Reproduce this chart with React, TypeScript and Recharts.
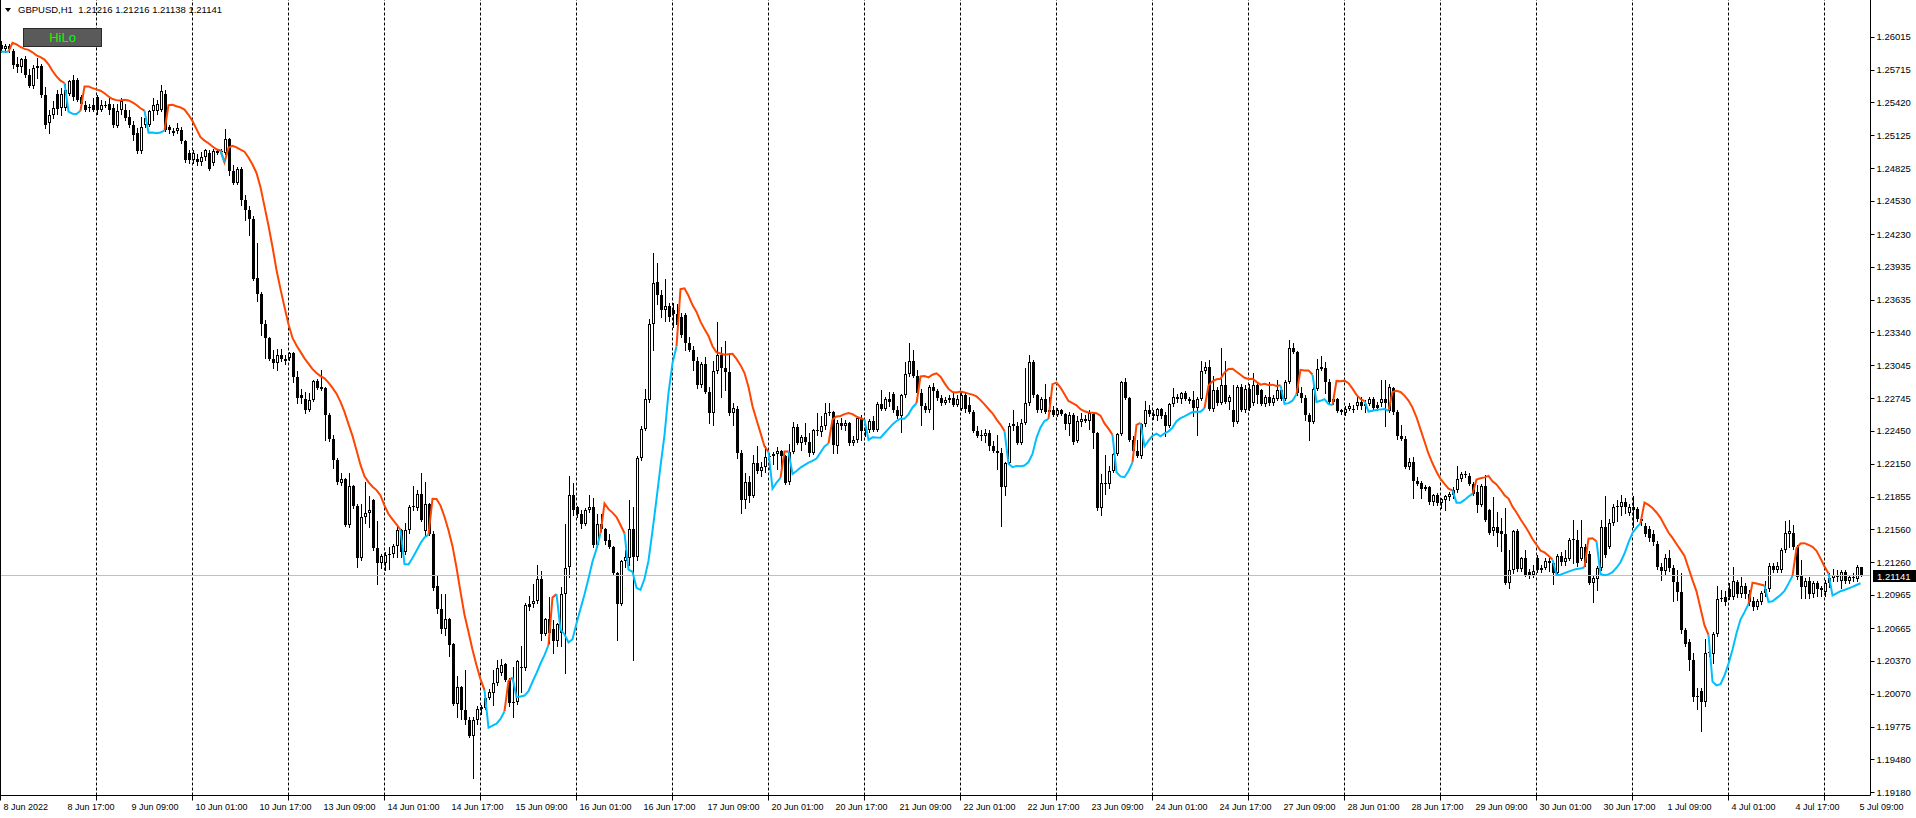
import React from "react";
import { ComposedChart, Bar, Line, XAxis, YAxis, ReferenceLine } from "recharts";

// GBPUSD H1, 8 Jun 2022 00:00 .. 5 Jul 2022 09:00 (one entry per hourly bar)
const opens = [
  1.2594, 1.2590, 1.2593, 1.2589, 1.2577, 1.2574, 1.2581, 1.2567, 1.2557, 1.2573,
  1.2575, 1.2549, 1.2523, 1.2531, 1.2550, 1.2537, 1.2537, 1.2550, 1.2562, 1.2562,
  1.2547, 1.2540, 1.2537, 1.2540, 1.2547, 1.2535, 1.2540, 1.2541, 1.2537, 1.2521,
  1.2535, 1.2535, 1.2529, 1.2522, 1.2514, 1.2498, 1.2522, 1.2522, 1.2534, 1.2534,
  1.2535, 1.2550, 1.2520, 1.2514, 1.2516, 1.2517, 1.2507, 1.2496, 1.2490, 1.2491,
  1.2488, 1.2493, 1.2496, 1.2487, 1.2498, 1.2497, 1.2496, 1.2509, 1.2480, 1.2469,
  1.2482, 1.2454, 1.2445, 1.2437, 1.2383, 1.2369, 1.2342, 1.2329, 1.2310, 1.2306,
  1.2314, 1.2310, 1.2311, 1.2315, 1.2294, 1.2277, 1.2274, 1.2264, 1.2273, 1.2290,
  1.2285, 1.2284, 1.2259, 1.2238, 1.2219, 1.2198, 1.2201, 1.2160, 1.2195, 1.2177,
  1.2130, 1.2167, 1.2171, 1.2182, 1.2139, 1.2125, 1.2125, 1.2133, 1.2134, 1.2141,
  1.2155, 1.2135, 1.2155, 1.2176, 1.2175, 1.2188, 1.2154, 1.2179, 1.2152, 1.2105,
  1.2084, 1.2066, 1.2075, 1.2052, 1.1998, 1.2013, 1.1992, 1.1983, 1.1969, 1.1983,
  1.1993, 1.1994, 1.2003, 1.2008, 1.2017, 1.2026, 1.2034, 1.2020, 1.1999, 1.2000,
  1.2031, 1.2030, 1.2088, 1.2088, 1.2091, 1.2111, 1.2061, 1.2075, 1.2066, 1.2055,
  1.2062, 1.2097, 1.2122, 1.2187, 1.2176, 1.2170, 1.2161, 1.2173, 1.2176, 1.2142,
  1.2161, 1.2156, 1.2146, 1.2140, 1.2116, 1.2088, 1.2127, 1.2130, 1.2156, 1.2131,
  1.2220, 1.2247, 1.2273, 1.2342, 1.2380, 1.2368, 1.2354, 1.2358, 1.2354, 1.2351,
  1.2348, 1.2350, 1.2324, 1.2318, 1.2308, 1.2286, 1.2305, 1.2280, 1.2261, 1.2299,
  1.2314, 1.2302, 1.2298, 1.2261, 1.2265, 1.2225, 1.2182, 1.2199, 1.2186, 1.2216,
  1.2209, 1.2212, 1.2221, 1.2222, 1.2224, 1.2227, 1.2222, 1.2199, 1.2226, 1.2248,
  1.2234, 1.2239, 1.2235, 1.2225, 1.2245, 1.2244, 1.2249, 1.2261, 1.2262, 1.2231,
  1.2252, 1.2249, 1.2252, 1.2234, 1.2237, 1.2257, 1.2245, 1.2246, 1.2254, 1.2246,
  1.2269, 1.2265, 1.2274, 1.2278, 1.2264, 1.2258, 1.2277, 1.2296, 1.2308, 1.2295,
  1.2279, 1.2267, 1.2264, 1.2285, 1.2281, 1.2275, 1.2270, 1.2273, 1.2275, 1.2268,
  1.2265, 1.2277, 1.2268, 1.2262, 1.2245, 1.2241, 1.2240, 1.2243, 1.2231, 1.2227,
  1.2225, 1.2194, 1.2216, 1.2251, 1.2249, 1.2234, 1.2252, 1.2270, 1.2307, 1.2277,
  1.2264, 1.2274, 1.2264, 1.2264, 1.2259, 1.2264, 1.2260, 1.2251, 1.2259, 1.2236,
  1.2253, 1.2256, 1.2254, 1.2260, 1.2243, 1.2175, 1.2198, 1.2197, 1.2209, 1.2224,
  1.2242, 1.2289, 1.2275, 1.2237, 1.2227, 1.2222, 1.2251, 1.2264, 1.2260, 1.2258,
  1.2265, 1.2259, 1.2249, 1.2269, 1.2274, 1.2274, 1.2279, 1.2274, 1.2273, 1.2266,
  1.2274, 1.2299, 1.2303, 1.2265, 1.2282, 1.2270, 1.2286, 1.2271, 1.2264, 1.2253,
  1.2285, 1.2264, 1.2283, 1.2270, 1.2286, 1.2282, 1.2269, 1.2276, 1.2270, 1.2274,
  1.2282, 1.2274, 1.2289, 1.2320, 1.2316, 1.2279, 1.2275, 1.2259, 1.2253, 1.2283,
  1.2301, 1.2302, 1.2289, 1.2274, 1.2274, 1.2264, 1.2261, 1.2265, 1.2265, 1.2267,
  1.2271, 1.2267, 1.2269, 1.2274, 1.2268, 1.2270, 1.2274, 1.2263, 1.2284, 1.2262,
  1.2240, 1.2238, 1.2212, 1.2217, 1.2200, 1.2198, 1.2192, 1.2194, 1.2181, 1.2187,
  1.2180, 1.2182, 1.2185, 1.2187, 1.2191, 1.2201, 1.2206, 1.2204, 1.2197, 1.2190,
  1.2178, 1.2195, 1.2173, 1.2154, 1.2158, 1.2154, 1.2152, 1.2107, 1.2119, 1.2154,
  1.2120, 1.2130, 1.2117, 1.2115, 1.2130, 1.2119, 1.2121, 1.2127, 1.2125, 1.2116,
  1.2132, 1.2126, 1.2129, 1.2146, 1.2146, 1.2129, 1.2140, 1.2134, 1.2107, 1.2111,
  1.2121, 1.2158, 1.2140, 1.2162, 1.2176, 1.2176, 1.2181, 1.2171, 1.2176, 1.2174,
  1.2165, 1.2159, 1.2156, 1.2152, 1.2143, 1.2122, 1.2118, 1.2130, 1.2121, 1.2108,
  1.2099, 1.2065, 1.2054, 1.2038, 1.2005, 1.2010, 1.2000, 1.2044, 1.2043, 1.2061,
  1.2093, 1.2095, 1.2102, 1.2095, 1.2108, 1.2097, 1.2105, 1.2097, 1.2091, 1.2086,
  1.2090, 1.2098, 1.2102, 1.2123, 1.2119, 1.2119, 1.2137, 1.2152, 1.2153, 1.2140,
  1.2114, 1.2104, 1.2109, 1.2097, 1.2107, 1.2103, 1.2099, 1.2107, 1.2112, 1.2115,
  1.2109, 1.2117, 1.2109, 1.2112, 1.2111, 1.21216,
];

const highs = [
  1.2598, 1.2595, 1.2595, 1.2590, 1.2583, 1.2582, 1.2584, 1.2572, 1.2576, 1.2582,
  1.2577, 1.2556, 1.2535, 1.2543, 1.2553, 1.2555, 1.2559, 1.2562, 1.2567, 1.2564,
  1.2549, 1.2543, 1.2541, 1.2546, 1.2549, 1.2544, 1.2543, 1.2546, 1.2541, 1.2541,
  1.2546, 1.2541, 1.2535, 1.2525, 1.2519, 1.2529, 1.2532, 1.2535, 1.2546, 1.2544,
  1.2558, 1.2553, 1.2522, 1.2519, 1.2523, 1.2520, 1.2508, 1.2499, 1.2499, 1.2495,
  1.2497, 1.2500, 1.2499, 1.2500, 1.2499, 1.2500, 1.2518, 1.2510, 1.2485, 1.2484,
  1.2484, 1.2458, 1.2448, 1.2439, 1.2415, 1.2371, 1.2345, 1.2330, 1.2318, 1.2319,
  1.2319, 1.2314, 1.2316, 1.2316, 1.2299, 1.2283, 1.2280, 1.2279, 1.2291, 1.2292,
  1.2300, 1.2285, 1.2261, 1.2241, 1.2220, 1.2207, 1.2202, 1.2207, 1.2196, 1.2179,
  1.2179, 1.2199, 1.2186, 1.2183, 1.2163, 1.2134, 1.2135, 1.2140, 1.2143, 1.2160,
  1.2156, 1.2162, 1.2178, 1.2195, 1.2191, 1.2207, 1.2199, 1.2180, 1.2154, 1.2115,
  1.2097, 1.2097, 1.2076, 1.2053, 1.2023, 1.2014, 1.2029, 1.1986, 1.1986, 1.1996,
  1.1997, 1.2005, 1.2011, 1.2029, 1.2038, 1.2039, 1.2035, 1.2021, 1.2031, 1.2038,
  1.2050, 1.2089, 1.2096, 1.2106, 1.2124, 1.2118, 1.2076, 1.2095, 1.2074, 1.2071,
  1.2104, 1.2161, 1.2204, 1.2198, 1.2177, 1.2173, 1.2175, 1.2187, 1.2184, 1.2170,
  1.2170, 1.2157, 1.2152, 1.2141, 1.2117, 1.2128, 1.2137, 1.2182, 1.2176, 1.2222,
  1.2249, 1.2283, 1.2346, 1.2406, 1.2397, 1.2372, 1.2382, 1.2361, 1.2361, 1.2360,
  1.2352, 1.2352, 1.2330, 1.2322, 1.2312, 1.2307, 1.2312, 1.2285, 1.2308, 1.2343,
  1.2321, 1.2326, 1.2315, 1.2270, 1.2267, 1.2228, 1.2207, 1.2204, 1.2223, 1.2231,
  1.2217, 1.2231, 1.2225, 1.2226, 1.2230, 1.2228, 1.2223, 1.2233, 1.2253, 1.2251,
  1.2241, 1.2252, 1.2243, 1.2247, 1.2261, 1.2258, 1.2270, 1.2270, 1.2263, 1.2255,
  1.2257, 1.2255, 1.2253, 1.2240, 1.2258, 1.2259, 1.2249, 1.2256, 1.2258, 1.2271,
  1.2282, 1.2276, 1.2280, 1.2280, 1.2267, 1.2278, 1.2307, 1.2324, 1.2318, 1.2300,
  1.2283, 1.2270, 1.2286, 1.2288, 1.2283, 1.2277, 1.2276, 1.2277, 1.2280, 1.2277,
  1.2280, 1.2279, 1.2276, 1.2264, 1.2249, 1.2246, 1.2247, 1.2246, 1.2236, 1.2241,
  1.2229, 1.2217, 1.2252, 1.2264, 1.2253, 1.2256, 1.2302, 1.2314, 1.2309, 1.2278,
  1.2276, 1.2287, 1.2276, 1.2267, 1.2266, 1.2265, 1.2261, 1.2262, 1.2261, 1.2258,
  1.2261, 1.2259, 1.2264, 1.2261, 1.2244, 1.2206, 1.2223, 1.2213, 1.2225, 1.2243,
  1.2290, 1.2293, 1.2276, 1.2240, 1.2237, 1.2252, 1.2272, 1.2268, 1.2264, 1.2266,
  1.2266, 1.2262, 1.2270, 1.2284, 1.2278, 1.2280, 1.2281, 1.2276, 1.2281, 1.2276,
  1.2308, 1.2307, 1.2309, 1.2295, 1.2285, 1.2320, 1.2308, 1.2277, 1.2286, 1.2286,
  1.2287, 1.2286, 1.2287, 1.2297, 1.2288, 1.2283, 1.2277, 1.2289, 1.2277, 1.2291,
  1.2285, 1.2291, 1.2327, 1.2324, 1.2317, 1.2285, 1.2277, 1.2261, 1.2285, 1.2310,
  1.2313, 1.2307, 1.2292, 1.2276, 1.2275, 1.2265, 1.2267, 1.2270, 1.2268, 1.2277,
  1.2276, 1.2273, 1.2276, 1.2276, 1.2271, 1.2291, 1.2291, 1.2287, 1.2285, 1.2264,
  1.2250, 1.2240, 1.2220, 1.2221, 1.2203, 1.2200, 1.2196, 1.2195, 1.2188, 1.2189,
  1.2184, 1.2187, 1.2190, 1.2194, 1.2213, 1.2208, 1.2209, 1.2207, 1.2199, 1.2196,
  1.2197, 1.2205, 1.2174, 1.2185, 1.2172, 1.2166, 1.2175, 1.2137, 1.2155, 1.2156,
  1.2131, 1.2137, 1.2120, 1.2124, 1.2133, 1.2124, 1.2130, 1.2130, 1.2127, 1.2134,
  1.2135, 1.2137, 1.2148, 1.2164, 1.2155, 1.2164, 1.2143, 1.2136, 1.2114, 1.2123,
  1.2164, 1.2186, 1.2165, 1.2179, 1.2182, 1.2187, 1.2184, 1.2179, 1.2186, 1.2176,
  1.2168, 1.2162, 1.2159, 1.2155, 1.2145, 1.2125, 1.2134, 1.2137, 1.2124, 1.2119,
  1.2116, 1.2067, 1.2057, 1.2044, 1.2012, 1.2012, 1.2057, 1.2056, 1.2063, 1.2105,
  1.2101, 1.2100, 1.2107, 1.2122, 1.2110, 1.2113, 1.2107, 1.2101, 1.2095, 1.2093,
  1.2100, 1.2109, 1.2125, 1.2125, 1.2126, 1.2139, 1.2163, 1.2164, 1.2160, 1.2142,
  1.2128, 1.2112, 1.2113, 1.2109, 1.2109, 1.2105, 1.2110, 1.2116, 1.2120, 1.2119,
  1.2119, 1.2119, 1.2115, 1.2116, 1.2124, 1.21216,
];

const lows = [
  1.2588, 1.2588, 1.2588, 1.2573, 1.2570, 1.2570, 1.2565, 1.2556, 1.2555, 1.2564,
  1.2547, 1.2519, 1.2514, 1.2528, 1.2532, 1.2531, 1.2535, 1.2549, 1.2544, 1.2543,
  1.2540, 1.2534, 1.2534, 1.2534, 1.2532, 1.2534, 1.2538, 1.2532, 1.2520, 1.2520,
  1.2532, 1.2526, 1.2520, 1.2508, 1.2496, 1.2496, 1.2520, 1.2521, 1.2526, 1.2532,
  1.2534, 1.2516, 1.2514, 1.2513, 1.2514, 1.2505, 1.2488, 1.2487, 1.2487, 1.2485,
  1.2485, 1.2490, 1.2481, 1.2485, 1.2495, 1.2495, 1.2495, 1.2476, 1.2468, 1.2468,
  1.2449, 1.2436, 1.2422, 1.2381, 1.2362, 1.2332, 1.2311, 1.2309, 1.2302, 1.2300,
  1.2308, 1.2305, 1.2309, 1.2289, 1.2270, 1.2270, 1.2261, 1.2263, 1.2272, 1.2283,
  1.2282, 1.2237, 1.2236, 1.2211, 1.2197, 1.2196, 1.2159, 1.2158, 1.2175, 1.2122,
  1.2128, 1.2162, 1.2158, 1.2137, 1.2106, 1.2121, 1.2119, 1.2120, 1.2131, 1.2131,
  1.2131, 1.2134, 1.2153, 1.2173, 1.2173, 1.2163, 1.2151, 1.2151, 1.2101, 1.2080,
  1.2062, 1.2060, 1.2041, 1.1997, 1.1986, 1.1984, 1.1980, 1.1968, 1.1931, 1.1980,
  1.1989, 1.1993, 1.2002, 1.1997, 1.2015, 1.2024, 1.2019, 1.1996, 1.1986, 1.1998,
  1.2009, 1.2029, 1.2083, 1.2086, 1.2089, 1.2056, 1.2060, 1.2053, 1.2044, 1.2050,
  1.2050, 1.2026, 1.2113, 1.2169, 1.2167, 1.2157, 1.2160, 1.2172, 1.2140, 1.2140,
  1.2154, 1.2143, 1.2139, 1.2115, 1.2056, 1.2087, 1.2122, 1.2124, 1.2038, 1.2128,
  1.2219, 1.2246, 1.2271, 1.2318, 1.2360, 1.2348, 1.2344, 1.2344, 1.2339, 1.2338,
  1.2330, 1.2318, 1.2317, 1.2300, 1.2284, 1.2285, 1.2279, 1.2252, 1.2250, 1.2297,
  1.2276, 1.2282, 1.2259, 1.2250, 1.2220, 1.2171, 1.2175, 1.2181, 1.2185, 1.2207,
  1.2204, 1.2208, 1.2210, 1.2215, 1.2210, 1.2207, 1.2197, 1.2197, 1.2225, 1.2233,
  1.2228, 1.2233, 1.2222, 1.2224, 1.2241, 1.2240, 1.2247, 1.2259, 1.2225, 1.2225,
  1.2247, 1.2246, 1.2232, 1.2232, 1.2235, 1.2237, 1.2240, 1.2244, 1.2245, 1.2245,
  1.2264, 1.2264, 1.2267, 1.2262, 1.2257, 1.2244, 1.2276, 1.2295, 1.2294, 1.2277,
  1.2250, 1.2262, 1.2262, 1.2247, 1.2273, 1.2268, 1.2269, 1.2271, 1.2267, 1.2267,
  1.2264, 1.2262, 1.2261, 1.2244, 1.2239, 1.2237, 1.2235, 1.2228, 1.2226, 1.2210,
  1.2159, 1.2187, 1.2215, 1.2246, 1.2233, 1.2233, 1.2251, 1.2268, 1.2276, 1.2262,
  1.2262, 1.2261, 1.2261, 1.2258, 1.2258, 1.2259, 1.2247, 1.2241, 1.2233, 1.2235,
  1.2249, 1.2253, 1.2247, 1.2229, 1.2173, 1.2169, 1.2188, 1.2193, 1.2208, 1.2223,
  1.2241, 1.2274, 1.2236, 1.2225, 1.2221, 1.2220, 1.2249, 1.2258, 1.2256, 1.2255,
  1.2257, 1.2240, 1.2248, 1.2267, 1.2271, 1.2270, 1.2273, 1.2270, 1.2258, 1.2241,
  1.2273, 1.2297, 1.2264, 1.2263, 1.2268, 1.2269, 1.2270, 1.2265, 1.2249, 1.2252,
  1.2263, 1.2262, 1.2264, 1.2268, 1.2270, 1.2268, 1.2267, 1.2268, 1.2268, 1.2273,
  1.2273, 1.2273, 1.2288, 1.2315, 1.2277, 1.2271, 1.2255, 1.2237, 1.2252, 1.2282,
  1.2300, 1.2279, 1.2270, 1.2269, 1.2262, 1.2260, 1.2259, 1.2264, 1.2262, 1.2265,
  1.2265, 1.2262, 1.2268, 1.2265, 1.2264, 1.2267, 1.2249, 1.2262, 1.2260, 1.2238,
  1.2237, 1.2211, 1.2210, 1.2184, 1.2196, 1.2184, 1.2191, 1.2179, 1.2178, 1.2178,
  1.2175, 1.2173, 1.2182, 1.2184, 1.2190, 1.2200, 1.2203, 1.2196, 1.2187, 1.2172,
  1.2177, 1.2163, 1.2152, 1.2151, 1.2141, 1.2136, 1.2106, 1.2103, 1.2116, 1.2118,
  1.2118, 1.2114, 1.2112, 1.2113, 1.2117, 1.2117, 1.2120, 1.2118, 1.2106, 1.2115,
  1.2124, 1.2124, 1.2128, 1.2125, 1.2123, 1.2128, 1.2123, 1.2106, 1.2090, 1.2101,
  1.2119, 1.2131, 1.2139, 1.2160, 1.2163, 1.2169, 1.2171, 1.2169, 1.2158, 1.2163,
  1.2160, 1.2150, 1.2145, 1.2142, 1.2120, 1.2110, 1.2115, 1.2118, 1.2091, 1.2092,
  1.2062, 1.2050, 1.2029, 1.2001, 1.1993, 1.1973, 1.1996, 1.2041, 1.2035, 1.2059,
  1.2091, 1.2087, 1.2093, 1.2093, 1.2095, 1.2095, 1.2094, 1.2087, 1.2083, 1.2084,
  1.2088, 1.2096, 1.2100, 1.2117, 1.2117, 1.2117, 1.2135, 1.2140, 1.2138, 1.2111,
  1.2094, 1.2094, 1.2094, 1.2095, 1.2096, 1.2096, 1.2096, 1.2104, 1.2109, 1.2109,
  1.2103, 1.2107, 1.2107, 1.2109, 1.2109, 1.21138,
];

const closes = [
  1.2590, 1.2593, 1.2590, 1.2576, 1.2574, 1.2581, 1.2567, 1.2557, 1.2573, 1.2575,
  1.2549, 1.2522, 1.2531, 1.2537, 1.2536, 1.2550, 1.2553, 1.2561, 1.2547, 1.2544,
  1.2541, 1.2535, 1.2538, 1.2535, 1.2535, 1.2540, 1.2539, 1.2535, 1.2522, 1.2534,
  1.2543, 1.2528, 1.2522, 1.2513, 1.2498, 1.2520, 1.2528, 1.2534, 1.2540, 1.2541,
  1.2552, 1.2517, 1.2517, 1.2516, 1.2519, 1.2507, 1.2490, 1.2490, 1.2496, 1.2488,
  1.2493, 1.2499, 1.2482, 1.2498, 1.2496, 1.2498, 1.2509, 1.2480, 1.2469, 1.2482,
  1.2454, 1.2445, 1.2437, 1.2382, 1.2369, 1.2342, 1.2329, 1.2310, 1.2306, 1.2314,
  1.2310, 1.2308, 1.2315, 1.2294, 1.2275, 1.2275, 1.2264, 1.2273, 1.2290, 1.2284,
  1.2283, 1.2259, 1.2238, 1.2219, 1.2199, 1.2201, 1.2160, 1.2195, 1.2177, 1.2130,
  1.2167, 1.2171, 1.2173, 1.2139, 1.2125, 1.2132, 1.2133, 1.2134, 1.2141, 1.2155,
  1.2135, 1.2155, 1.2176, 1.2177, 1.2188, 1.2164, 1.2179, 1.2152, 1.2103, 1.2084,
  1.2066, 1.2075, 1.2051, 1.1998, 1.2013, 1.1992, 1.1983, 1.1969, 1.1983, 1.1993,
  1.1995, 1.2003, 1.2009, 1.2017, 1.2030, 1.2033, 1.2020, 1.1999, 1.2000, 1.2037,
  1.2030, 1.2087, 1.2086, 1.2091, 1.2111, 1.2061, 1.2075, 1.2062, 1.2055, 1.2070,
  1.2097, 1.2121, 1.2187, 1.2173, 1.2170, 1.2161, 1.2173, 1.2176, 1.2142, 1.2161,
  1.2156, 1.2145, 1.2140, 1.2116, 1.2088, 1.2127, 1.2131, 1.2156, 1.2131, 1.2220,
  1.2247, 1.2274, 1.2342, 1.2379, 1.2368, 1.2354, 1.2358, 1.2348, 1.2351, 1.2341,
  1.2332, 1.2324, 1.2318, 1.2308, 1.2286, 1.2305, 1.2280, 1.2261, 1.2299, 1.2314,
  1.2302, 1.2298, 1.2261, 1.2266, 1.2225, 1.2182, 1.2199, 1.2186, 1.2216, 1.2209,
  1.2212, 1.2221, 1.2222, 1.2224, 1.2227, 1.2222, 1.2198, 1.2226, 1.2248, 1.2234,
  1.2239, 1.2235, 1.2225, 1.2246, 1.2246, 1.2249, 1.2261, 1.2262, 1.2232, 1.2252,
  1.2249, 1.2252, 1.2234, 1.2237, 1.2257, 1.2245, 1.2246, 1.2254, 1.2246, 1.2269,
  1.2265, 1.2274, 1.2271, 1.2264, 1.2258, 1.2277, 1.2296, 1.2308, 1.2295, 1.2279,
  1.2267, 1.2264, 1.2285, 1.2281, 1.2275, 1.2270, 1.2273, 1.2275, 1.2268, 1.2274,
  1.2277, 1.2265, 1.2262, 1.2245, 1.2240, 1.2240, 1.2243, 1.2231, 1.2227, 1.2225,
  1.2194, 1.2216, 1.2249, 1.2249, 1.2234, 1.2252, 1.2270, 1.2307, 1.2277, 1.2264,
  1.2274, 1.2262, 1.2262, 1.2259, 1.2264, 1.2260, 1.2251, 1.2259, 1.2235, 1.2254,
  1.2256, 1.2254, 1.2261, 1.2243, 1.2175, 1.2198, 1.2197, 1.2209, 1.2224, 1.2242,
  1.2289, 1.2275, 1.2237, 1.2227, 1.2222, 1.2251, 1.2264, 1.2260, 1.2258, 1.2265,
  1.2258, 1.2249, 1.2269, 1.2276, 1.2276, 1.2279, 1.2274, 1.2272, 1.2266, 1.2274,
  1.2299, 1.2303, 1.2265, 1.2282, 1.2270, 1.2286, 1.2271, 1.2276, 1.2253, 1.2285,
  1.2264, 1.2283, 1.2266, 1.2286, 1.2277, 1.2269, 1.2276, 1.2270, 1.2275, 1.2282,
  1.2274, 1.2289, 1.2320, 1.2316, 1.2279, 1.2275, 1.2259, 1.2253, 1.2283, 1.2301,
  1.2303, 1.2289, 1.2271, 1.2271, 1.2263, 1.2262, 1.2265, 1.2267, 1.2264, 1.2271,
  1.2267, 1.2269, 1.2274, 1.2266, 1.2266, 1.2274, 1.2270, 1.2285, 1.2262, 1.2240,
  1.2238, 1.2212, 1.2217, 1.2200, 1.2197, 1.2192, 1.2194, 1.2181, 1.2187, 1.2180,
  1.2183, 1.2186, 1.2188, 1.2191, 1.2201, 1.2206, 1.2205, 1.2197, 1.2188, 1.2178,
  1.2195, 1.2164, 1.2153, 1.2158, 1.2153, 1.2152, 1.2107, 1.2119, 1.2154, 1.2120,
  1.2130, 1.2115, 1.2115, 1.2118, 1.2119, 1.2121, 1.2127, 1.2125, 1.2116, 1.2132,
  1.2126, 1.2130, 1.2146, 1.2147, 1.2125, 1.2140, 1.2125, 1.2107, 1.2112, 1.2121,
  1.2158, 1.2133, 1.2162, 1.2176, 1.2177, 1.2181, 1.2176, 1.2176, 1.2173, 1.2165,
  1.2163, 1.2152, 1.2148, 1.2144, 1.2122, 1.2118, 1.2130, 1.2121, 1.2108, 1.2099,
  1.2065, 1.2052, 1.2038, 1.2004, 1.2004, 1.2000, 1.2044, 1.2045, 1.2061, 1.2093,
  1.2094, 1.2090, 1.2095, 1.2109, 1.2097, 1.2105, 1.2097, 1.2090, 1.2086, 1.2091,
  1.2098, 1.2102, 1.2123, 1.2119, 1.2123, 1.2137, 1.2153, 1.2154, 1.2140, 1.2113,
  1.2104, 1.2109, 1.2097, 1.2107, 1.2102, 1.2101, 1.2107, 1.2112, 1.2115, 1.2113,
  1.2117, 1.2109, 1.2113, 1.2113, 1.2122, 1.21141,
];

const timeLabels = [
  "8 Jun 2022", "8 Jun 17:00", "9 Jun 09:00", "10 Jun 01:00", "10 Jun 17:00",
  "13 Jun 09:00", "14 Jun 01:00", "14 Jun 17:00", "15 Jun 09:00", "16 Jun 01:00",
  "16 Jun 17:00", "17 Jun 09:00", "20 Jun 01:00", "20 Jun 17:00", "21 Jun 09:00",
  "22 Jun 01:00", "22 Jun 17:00", "23 Jun 09:00", "24 Jun 01:00", "24 Jun 17:00",
  "27 Jun 09:00", "28 Jun 01:00", "28 Jun 17:00", "29 Jun 09:00", "30 Jun 01:00",
  "30 Jun 17:00", "1 Jul 09:00", "4 Jul 01:00", "4 Jul 17:00", "5 Jul 09:00",
];

const priceTicks = [
  1.26015, 1.25715, 1.2542, 1.25125, 1.24825, 1.2453, 1.2423, 1.23935,
  1.23635, 1.2334, 1.23045, 1.22745, 1.2245, 1.2215, 1.21855, 1.2156,
  1.2126, 1.20965, 1.20665, 1.2037, 1.2007, 1.19775, 1.1948, 1.1918,
];

const lastBar = { open: 1.21216, high: 1.21216, low: 1.21138, close: 1.21141 };

const PERIOD = 8;
const LABEL_STEP = 16;
const DAY_BARS = 24;
const SLOTS = 468;
const TOP_PRICE = 1.26347;
const BOTTOM_PRICE = 1.19151;
const FONT = "'Liberation Sans', Arial, sans-serif";

// HiLo activator: the SMA of the previous PERIOD highs is shown while the trend is down,
// the SMA of the previous PERIOD lows while it is up
const mean = (a: number[]) => a.reduce((s, v) => s + v, 0) / a.length;
const prevAvg = (arr: number[], i: number) =>
  i === 0 ? arr[0] : mean(arr.slice(Math.max(0, i - PERIOD), i));
const avgHigh = highs.map((_, i) => prevAvg(highs, i));
const avgLow = lows.map((_, i) => prevAvg(lows, i));
const trend: number[] = [];
closes.forEach((c, i) => {
  if (i === 0) trend.push(1);
  else if (c > avgHigh[i]) trend.push(1);
  else if (c < avgLow[i]) trend.push(-1);
  else trend.push(trend[i - 1]);
});
const upper: (number | null)[] = trend.map((t, i) => (t === -1 ? avgHigh[i] : null));
const lower: (number | null)[] = trend.map((t, i) => (t === 1 ? avgLow[i] : null));
for (let i = 1; i < trend.length; i++) {
  if (trend[i] !== trend[i - 1]) {
    if (trend[i] === -1) upper[i - 1] = lower[i - 1];
    else lower[i - 1] = upper[i - 1];
  }
}

const rows: any[] = closes.map((c, i) => {
  const h = Math.max(highs[i], opens[i], c);
  const l = Math.min(lows[i], opens[i], c);
  return { i, o: opens[i], h, l, c, range: [l, h], upper: upper[i], lower: lower[i] };
});
for (let i = closes.length; i < SLOTS; i++) rows.push({ i });

const labelByBar = new Map<number, string>(timeLabels.map((t, k) => [1 + k * LABEL_STEP, t]));
const dayBars: number[] = [];
for (let b = 0; b < SLOTS; b += DAY_BARS) dayBars.push(b);
const xTicks = [...dayBars, ...labelByBar.keys()].sort((a, b) => a - b);
const gridBars = dayBars.filter((b) => b > 0);

function Candle(props: any) {
  const { x, y, width, height, payload } = props;
  if (!payload || payload.o == null) return null;
  const { o, h, l, c } = payload;
  const span = h - l || 1e-9;
  const py = (p: number) => y + ((h - p) / span) * height;
  const cx = Math.floor(x + width / 2) + 0.5;
  const top = Math.round(py(Math.max(o, c)));
  const bot = Math.round(py(Math.min(o, c)));
  const yh = Math.round(y);
  const yl = Math.round(y + height);
  let body;
  if (bot - top <= 1) {
    body = <rect x={cx - 1.5} y={top} width={3} height={1} fill="#000" />;
  } else if (c > o) {
    body = <rect x={cx - 1} y={top + 0.5} width={2} height={bot - top - 1} fill="#fff" stroke="#000" strokeWidth={1} />;
  } else {
    body = <rect x={cx - 1.5} y={top} width={3} height={bot - top} fill="#000" />;
  }
  return (
    <g>
      <line x1={cx} x2={cx} y1={yh} y2={yl + 1} stroke="#000" strokeWidth={1} />
      {body}
    </g>
  );
}

function TimeTick(props: any) {
  const { x, y, payload } = props;
  const v = payload.value;
  if (v % DAY_BARS === 0) {
    const px = Math.floor(x) + 0.5;
    return <line x1={px} x2={px} y1={y} y2={y + 5} stroke="#000" strokeWidth={1} />;
  }
  return (
    <text x={x - 1} y={y + 14} fontSize={9} fontFamily={FONT} fill="#000">
      {labelByBar.get(v)}
    </text>
  );
}

function PriceTick(props: any) {
  const { x, y, payload } = props;
  const py = Math.round(y) + 0.5;
  return (
    <g>
      <line x1={x} x2={x + 4} y1={py} y2={py} stroke="#000" strokeWidth={1} />
      <text x={x + 6} y={y + 3.5} fontSize={9.5} fontFamily={FONT} fill="#000">
        {Number(payload.value).toFixed(5)}
      </text>
    </g>
  );
}

function PriceBadge(props: any) {
  const vb = props.viewBox || {};
  const right = (vb.x || 0) + (vb.width || 0);
  const y = Math.round(vb.y || 0);
  return (
    <g>
      <rect x={right + 2.5} y={y - 6} width={46} height={12} fill="#000" />
      <text x={right + 6.5} y={y + 3.5} fontSize={9.5} fontFamily={FONT} fill="#fff">
        {lastBar.close.toFixed(5)}
      </text>
    </g>
  );
}

export default function App() {
  return (
    <div style={{ position: "relative", width: 1916, height: 818, background: "#fff", overflow: "hidden" }}>
      <style>{`body{margin:0}`}</style>
      <ComposedChart
        width={1916}
        height={818}
        data={rows}
        margin={{ top: 0, right: -0.5, bottom: 0, left: -1.5 }}
      >
        <XAxis
          dataKey="i"
          type="category"
          height={22.5}
          ticks={xTicks}
          interval={0}
          tick={TimeTick}
          tickLine={false}
          tickSize={0}
          tickMargin={0}
          axisLine={{ stroke: "#000" }}
        />
        <YAxis
          orientation="right"
          type="number"
          width={46}
          domain={[BOTTOM_PRICE, TOP_PRICE]}
          allowDataOverflow
          ticks={priceTicks}
          interval={0}
          tick={PriceTick}
          tickLine={false}
          tickSize={0}
          tickMargin={0}
          axisLine={{ stroke: "#000" }}
        />
        {gridBars.map((b) => (
          <ReferenceLine key={b} x={b} stroke="#000" strokeWidth={1} strokeDasharray="3 2" />
        ))}
        <ReferenceLine y={lastBar.close} stroke="#c0c0c0" strokeWidth={1} label={PriceBadge} />
        <Bar dataKey="range" barSize={3} isAnimationActive={false} shape={(p: any) => <Candle {...p} />} />
        <Line
          type="linear"
          dataKey="upper"
          stroke="#ff4500"
          strokeWidth={2}
          dot={false}
          activeDot={false}
          connectNulls={false}
          isAnimationActive={false}
        />
        <Line
          type="linear"
          dataKey="lower"
          stroke="#00bfff"
          strokeWidth={2}
          dot={false}
          activeDot={false}
          connectNulls={false}
          isAnimationActive={false}
        />
      </ComposedChart>

      <div style={{ position: "absolute", left: 0, top: 0, width: 1, height: 795, background: "#000" }} />
      <div
        style={{
          position: "absolute",
          left: 5,
          top: 8,
          width: 0,
          height: 0,
          borderLeft: "3px solid transparent",
          borderRight: "3px solid transparent",
          borderTop: "4px solid #000",
        }}
      />
      <div
        style={{
          position: "absolute",
          left: 18,
          top: 4,
          fontFamily: FONT,
          fontSize: 9.5,
          lineHeight: "12px",
          color: "#000",
          whiteSpace: "pre",
        }}
      >
        {`GBPUSD,H1  ${lastBar.open.toFixed(5)} ${lastBar.high.toFixed(5)} ${lastBar.low.toFixed(5)} ${lastBar.close.toFixed(5)}`}
      </div>
      <div
        style={{
          position: "absolute",
          left: 23,
          top: 28,
          width: 77,
          height: 17,
          background: "#5a5a5a",
          border: "1px solid #2a2a2a",
          color: "#00ff00",
          fontFamily: FONT,
          fontSize: 13,
          lineHeight: "17px",
          textAlign: "center",
        }}
      >
        HiLo
      </div>
    </div>
  );
}
